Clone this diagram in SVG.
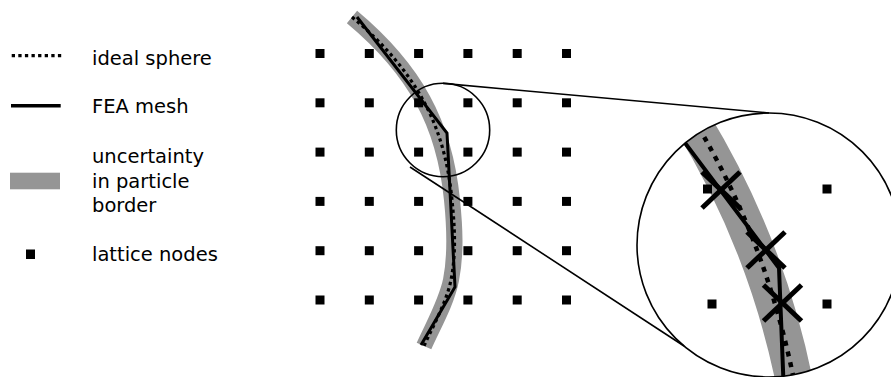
<svg xmlns="http://www.w3.org/2000/svg" width="891" height="377" viewBox="0 0 891 377">
<defs>
<style>
.txt{font-family:"DejaVu Sans","Liberation Sans",sans-serif;font-size:19.5px;fill:#000}
.node{fill:#000}
.band{fill:none;stroke:#959595;stroke-width:16}
.ideal{fill:none;stroke:#000;stroke-width:3.2;stroke-dasharray:3.3 3.3}
.mesh{fill:none;stroke:#000;stroke-width:3;stroke-linejoin:miter}
.thin{fill:none;stroke:#000;stroke-width:1.6}
.xmark{stroke:#000;stroke-width:5}
</style>
<clipPath id="zoomClip"><circle cx="769" cy="245" r="132"/></clipPath>
</defs>
<rect width="891" height="377" fill="#fff"/>

<g id="legend">
  <g id="legend-ideal">
    <line x1="11.7" y1="55.7" x2="62" y2="55.7" class="ideal"/>
    <text x="92" y="65" class="txt">ideal sphere</text>
  </g>
  <g id="legend-mesh">
    <line x1="11" y1="105.8" x2="60.7" y2="105.8" stroke="#000" stroke-width="3.5"/>
    <text x="92" y="113.3" class="txt">FEA mesh</text>
  </g>
  <g id="legend-uncertainty">
    <rect x="10" y="172.7" width="50" height="16.6" fill="#959595"/>
    <text x="92" y="163.3" class="txt">uncertainty</text>
    <text x="92" y="187.5" class="txt">in particle</text>
    <text x="92" y="211.7" class="txt">border</text>
  </g>
  <g id="legend-lattice">
    <rect x="26" y="249.5" width="9" height="9.5" class="node"/>
    <text x="92" y="261" class="txt">lattice nodes</text>
  </g>
</g>

<g id="band">
  <path class="band" d="M352,17 C385.2,44.7 407.8,72.3 423,100 C441.3,133.3 448.7,166.7 452,200 C454.7,226.7 456.3,253.3 451,280 C446.6,302 433.9,324 424,346"/>
</g>

<g id="lattice">
  <rect class="node" x="315.5" y="49" width="9" height="9"/><rect class="node" x="364.8" y="49" width="9" height="9"/><rect class="node" x="414.1" y="49" width="9" height="9"/><rect class="node" x="463.4" y="49" width="9" height="9"/><rect class="node" x="512.7" y="49" width="9" height="9"/><rect class="node" x="562" y="49" width="9" height="9"/>
  <rect class="node" x="315.5" y="98.3" width="9" height="9"/><rect class="node" x="364.8" y="98.3" width="9" height="9"/><rect class="node" x="414.1" y="98.3" width="9" height="9"/><rect class="node" x="463.4" y="98.3" width="9" height="9"/><rect class="node" x="512.7" y="98.3" width="9" height="9"/><rect class="node" x="562" y="98.3" width="9" height="9"/>
  <rect class="node" x="315.5" y="147.6" width="9" height="9"/><rect class="node" x="364.8" y="147.6" width="9" height="9"/><rect class="node" x="414.1" y="147.6" width="9" height="9"/><rect class="node" x="463.4" y="147.6" width="9" height="9"/><rect class="node" x="512.7" y="147.6" width="9" height="9"/><rect class="node" x="562" y="147.6" width="9" height="9"/>
  <rect class="node" x="315.5" y="196.9" width="9" height="9"/><rect class="node" x="364.8" y="196.9" width="9" height="9"/><rect class="node" x="414.1" y="196.9" width="9" height="9"/><rect class="node" x="463.4" y="196.9" width="9" height="9"/><rect class="node" x="512.7" y="196.9" width="9" height="9"/><rect class="node" x="562" y="196.9" width="9" height="9"/>
  <rect class="node" x="315.5" y="246.2" width="9" height="9"/><rect class="node" x="364.8" y="246.2" width="9" height="9"/><rect class="node" x="414.1" y="246.2" width="9" height="9"/><rect class="node" x="463.4" y="246.2" width="9" height="9"/><rect class="node" x="512.7" y="246.2" width="9" height="9"/><rect class="node" x="562" y="246.2" width="9" height="9"/>
  <rect class="node" x="315.5" y="295.5" width="9" height="9"/><rect class="node" x="364.8" y="295.5" width="9" height="9"/><rect class="node" x="414.1" y="295.5" width="9" height="9"/><rect class="node" x="463.4" y="295.5" width="9" height="9"/><rect class="node" x="512.7" y="295.5" width="9" height="9"/><rect class="node" x="562" y="295.5" width="9" height="9"/>
</g>

<g id="ideal-sphere">
  <path class="ideal" d="M352,17 C385.2,44.7 407.8,72.3 423,100 C441.3,133.3 448.7,166.7 452,200 C454.7,226.7 456.3,253.3 451,280 C446.6,302 433.9,324 424,346"/>
</g>
<g id="fea-mesh">
  <polyline class="mesh" points="357,17 447,133 455,287 421,345"/>
</g>

<g id="small-circle">
  <circle cx="443" cy="130" r="46.7" class="thin"/>
</g>

<g id="connectors">
  <line x1="443" y1="83.4" x2="769" y2="113" class="thin"/>
  <line x1="410" y1="167" x2="684" y2="346" class="thin"/>
</g>

<g id="magnified">
  <g clip-path="url(#zoomClip)">
    <path d="M690,118 C745,207 777.2,296 795,385" fill="none" stroke="#959595" stroke-width="37"/>
    <rect class="node" x="703" y="184.5" width="9" height="9"/>
    <rect class="node" x="822.5" y="184.5" width="9" height="9"/>
    <rect class="node" x="707.5" y="299.5" width="9" height="9"/>
    <rect class="node" x="822.5" y="299.5" width="9" height="9"/>
    <path d="M693,118 C747,207 777.2,296 795,385" fill="none" stroke="#000" stroke-width="4.5" stroke-dasharray="5 6"/>
    <polyline points="670,123 779,268 784,395" fill="none" stroke="#000" stroke-width="4"/>
    <g class="xmark">
      <line x1="702" y1="208" x2="740" y2="172"/>
      <line x1="702" y1="172" x2="740" y2="208"/>
      <line x1="747" y1="268" x2="785" y2="232"/>
      <line x1="747" y1="232" x2="785" y2="268"/>
      <line x1="763.5" y1="321" x2="801.5" y2="285"/>
      <line x1="763.5" y1="285" x2="801.5" y2="321"/>
    </g>
  </g>
  <circle cx="769" cy="245" r="132" class="thin"/>
</g>
</svg>
